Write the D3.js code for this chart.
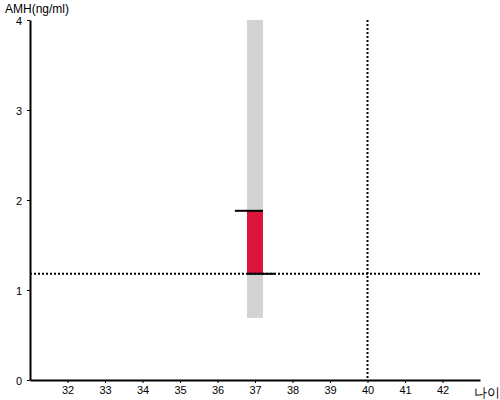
<!DOCTYPE html>
<html>
<head>
<meta charset="utf-8">
<script src="https://cdn.jsdelivr.net/npm/d3@7"></script>
<style>
body { margin: 0; background: #fff; }
text { font-family: "Liberation Sans", Arial, sans-serif; }
</style>
</head>
<body>
<svg id="chart" width="500" height="400"></svg>
<script>
// Data
const xTicks = [32, 33, 34, 35, 36, 37, 38, 39, 40, 41, 42];
const yTicks = [0, 1, 2, 3, 4];
const ages = [37];
const rangeLow = [0.69];
const rangeHigh = [4];
const amhFrom = [1.18];
const amhTo = [1.88];
const refAge = [40];
const refAmh = [1.18];
const yTitle = "AMH(ng/ml)";
const xTitle = "나이";

const svg = d3.select("#chart");
const x = d3.scaleLinear().domain([31, 43]).range([30, 480]);
const y = d3.scaleLinear().domain([0, 4]).range([380, 20]);
const barHalf = 0.213;
const capLen = 0.75;

// gray range band
svg.selectAll("rect.range").data(ages).enter().append("rect")
  .attr("x", (d) => x(d - barHalf))
  .attr("width", (d) => x(d + barHalf) - x(d - barHalf))
  .attr("y", (d, i) => y(rangeHigh[i]))
  .attr("height", (d, i) => y(rangeLow[i]) - y(rangeHigh[i]))
  .attr("fill", "#d3d3d3");

// red bar
svg.selectAll("rect.val").data(ages).enter().append("rect")
  .attr("x", (d) => x(d - barHalf))
  .attr("width", (d) => x(d + barHalf) - x(d - barHalf))
  .attr("y", (d, i) => y(amhTo[i]))
  .attr("height", (d, i) => y(amhFrom[i]) - y(amhTo[i]))
  .attr("fill", "#dc143c");

// reference dotted lines
svg.append("line")
  .attr("x1", x(31)).attr("x2", x(43))
  .attr("y1", y(refAmh[0])).attr("y2", y(refAmh[0]))
  .attr("stroke", "#000").attr("stroke-width", 2).attr("stroke-dasharray", "2,2");
svg.append("line")
  .attr("x1", x(refAge[0])).attr("x2", x(refAge[0]))
  .attr("y1", y(4)).attr("y2", y(0))
  .attr("stroke", "#000").attr("stroke-width", 2).attr("stroke-dasharray", "2,2");

// caps
svg.selectAll("line.top").data(ages).enter().append("line")
  .attr("x1", (d) => x(d + barHalf - capLen)).attr("x2", (d) => x(d + barHalf))
  .attr("y1", (d, i) => y(amhTo[i])).attr("y2", (d, i) => y(amhTo[i]))
  .attr("stroke", "#000").attr("stroke-width", 2);
svg.selectAll("line.bot").data(ages).enter().append("line")
  .attr("x1", (d) => x(d - barHalf)).attr("x2", (d) => x(d - barHalf + capLen))
  .attr("y1", (d, i) => y(amhFrom[i])).attr("y2", (d, i) => y(amhFrom[i]))
  .attr("stroke", "#000").attr("stroke-width", 2);

// axes
const xAxis = d3.axisBottom(x).tickValues(xTicks).tickFormat(d3.format("d"))
  .tickSize(3).tickPadding(3).tickSizeOuter(0);
const gx = svg.append("g").attr("transform", "translate(0,380)").call(xAxis);
const yAxis = d3.axisLeft(y).tickValues(yTicks).tickFormat(d3.format("d"))
  .tickSize(3).tickPadding(5).tickSizeOuter(0);
const gy = svg.append("g").attr("transform", "translate(30,0)").call(yAxis);
[gx, gy].forEach(g => {
  g.select(".domain").attr("stroke", "#000").attr("stroke-width", 2);
  g.selectAll(".tick line").attr("stroke", "#000");
  g.selectAll(".tick text").attr("font-size", 11).attr("fill", "#000")
    .attr("font-family", "'Liberation Sans', Arial, sans-serif");
});
gy.selectAll(".tick text").attr("dy", "0.45em");

svg.append("text").attr("x", 5).attr("y", 13).attr("font-size", 12).attr("fill", "#000").text(yTitle);
svg.append("text").attr("x", 474).attr("y", 397).attr("font-size", 13).attr("fill", "#000")
  .attr("font-family", "'Noto Sans CJK KR', sans-serif").text(xTitle);
</script>
</body>
</html>
